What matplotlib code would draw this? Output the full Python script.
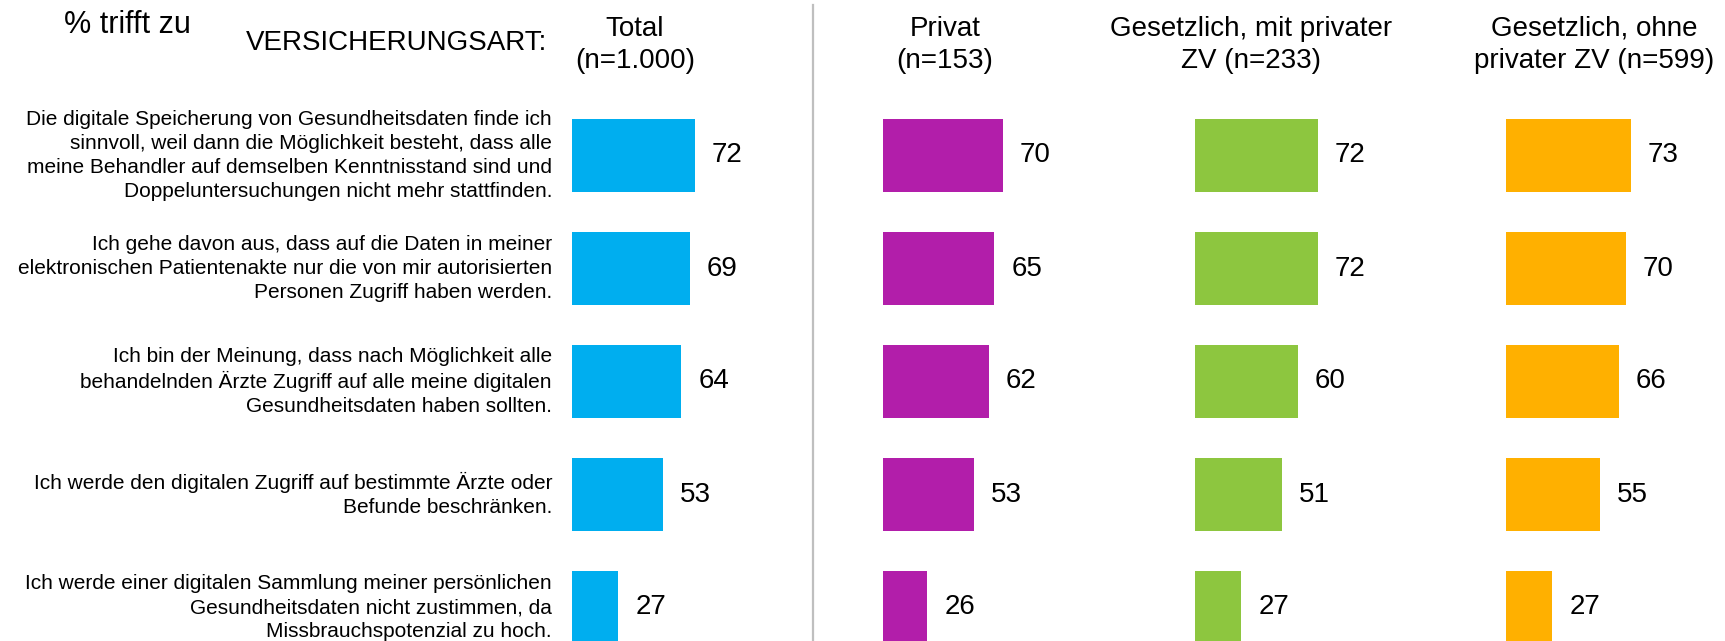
import matplotlib
matplotlib.use('Agg')
import matplotlib.pyplot as plt

plt.rcParams['font.family'] = ['Liberation Sans', 'DejaVu Sans']

# data
statements = [
    'Die digitale Speicherung von Gesundheitsdaten finde ich\nsinnvoll, weil dann die Möglichkeit besteht, dass alle\nmeine Behandler auf demselben Kenntnisstand sind und\nDoppeluntersuchungen nicht mehr stattfinden.',
    'Ich gehe davon aus, dass auf die Daten in meiner\nelektronischen Patientenakte nur die von mir autorisierten\nPersonen Zugriff haben werden.',
    'Ich bin der Meinung, dass nach Möglichkeit alle\nbehandelnden Ärzte Zugriff auf alle meine digitalen\nGesundheitsdaten haben sollten.',
    'Ich werde den digitalen Zugriff auf bestimmte Ärzte oder\nBefunde beschränken.',
    'Ich werde einer digitalen Sammlung meiner persönlichen\nGesundheitsdaten nicht zustimmen, da\nMissbrauchspotenzial zu hoch.',
]
groups = ['Total\n(n=1.000)', 'Privat\n(n=153)', 'Gesetzlich, mit privater\nZV (n=233)',
          'Gesetzlich, ohne\nprivater ZV (n=599)']
total = [72, 69, 64, 53, 27]
privat = [70, 65, 62, 53, 26]
gesetzlich_mit = [72, 72, 60, 51, 27]
gesetzlich_ohne = [73, 70, 66, 55, 27]
colors = ['#00AEEF', '#B21EAA', '#8DC63F', '#FFB000']

W, H = 1725, 641
fig = plt.figure(figsize=(W / 100, H / 100), dpi=100)

zero_px = [572, 883, 1195, 1506]
head_px = [635, 945, 1251, 1594]
px_per_unit = 1.71
ax_w = 200
top, bottom = 99, 664  # rows from -0.5 to 4.5

series = [total, privat, gesetzlich_mit, gesetzlich_ohne]
rows = list(range(len(statements)))

for k, vals in enumerate(series):
    ax = fig.add_axes([zero_px[k] / W, (H - bottom) / H, ax_w / W, (bottom - top) / H])
    ax.barh(rows, vals, height=0.646, color=colors[k])
    ax.set_xlim(0, ax_w / px_per_unit)
    ax.set_ylim(4.5, -0.5)
    ax.axis('off')
    for i, v in zip(rows, vals):
        ax.annotate(str(v), (v, i), xytext=(17, 0), textcoords='offset pixels',
                    ha='left', va='center', fontsize=20)
    if k == 0:
        for i, s in zip(rows, statements):
            ax.annotate(s, (0, i), xytext=(-20, 0), textcoords='offset pixels',
                        ha='right', va='center', multialignment='right',
                        fontsize=15, linespacing=1.32, annotation_clip=False)
    fig.text(head_px[k] / W, 1 - 45 / H, groups[k], ha='center', va='center',
             multialignment='center', fontsize=20, linespacing=1.32)

fig.text(64 / W, 1 - 25 / H, '% trifft zu', ha='left', va='center', fontsize=22)
fig.text(547 / W, 1 - 43 / H, 'VERSICHERUNGSART:', ha='right', va='center', fontsize=20)

# divider
fig.add_artist(plt.Line2D([813 / W, 813 / W], [0, 1 - 5 / H], color='#BFBFBF', lw=1.6))

fig.savefig('out.png', dpi=100)
